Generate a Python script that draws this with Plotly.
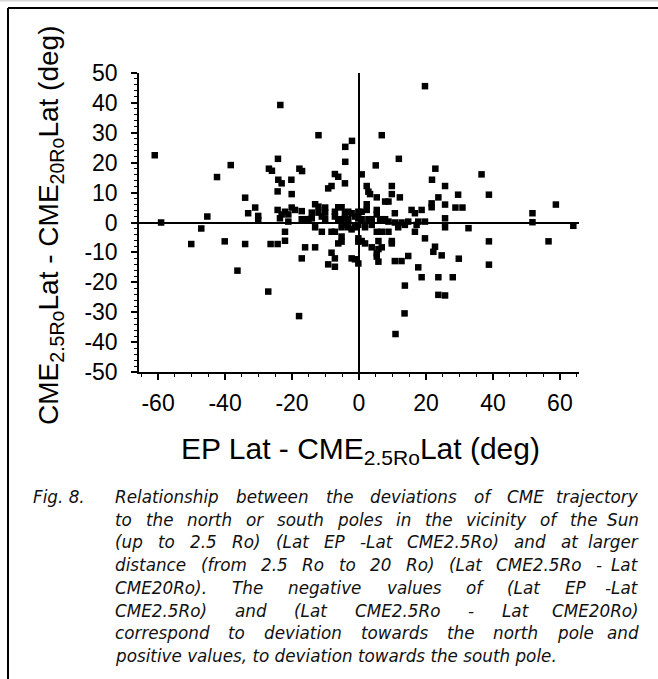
import plotly.graph_objects as go

# ---- data: (EP Lat - CME2.5Ro Lat, CME2.5Ro Lat - CME20Ro Lat) ----
x_dev = [
    -61.0, -42.4, -38.3, -26.9, -26.0, -23.5, -24.2, -12.1, -2.1, -4.1, -4.1, -17.8, -17.0, -7.2, -6.2,
    -24.1, -20.2, 0.8, 6.8, 5.0, 11.9, 19.7, 22.8, 21.8, 36.6,
    -59.1, -50.1, -47.1, -45.3, -40.1, -36.3, -34.0, -33.1, -34.0, -31.0, -30.1, -30.1, -27.1, -26.4,
    -24.3, -24.3, -24.3, -23.6,
    -23.1, -4.2, -8.2, -9.2, 2.3, 2.8, 3.3, 5.3, 9.8, 25.7, -20.1, 9.8, 12.2, 8.8, 7.8, 23.7, 21.7, 21.7,
    25.7, -13.1, -12.1, -10.1, -6.2, -5.2, 2.3, -20.1, -19.1, -22.1, -23.1, -21.1, -17.1, -14.1, -12.1,
    -10.1, -7.2, -4.2, -3.2, -2.2, -0.2, 0.8, 2.3, 5.3, 5.3, 10.7, 15.7, 16.7, 18.7,
    -21.1, -17.1, -16.1, -15.1, -14.1, -11.1, -10.1, -7.2, -6.2, -5.2, -4.2, -3.2, -1.2, -0.2, 0.8, 2.8,
    3.8, 6.3, 7.8, 8.8, 10.7, 12.7, 14.7, 17.7, 19.7, 25.7,
    -13.1, -11.1, -8.2, -7.2, -5.2, -4.2, -3.2, -2.2, -1.2, -0.2, 1.8, 3.8, 5.3, 6.8, 8.8, 11.7, 13.7,
    16.7, 17.2, -22.1, -22.1, -5.2, -5.2, -6.2, -0.2, -0.2, 0.8, 1.8, 5.8, 9.8, 9.8, 19.7, 25.7,
    -16.1, -13.1, 3.8, 5.8, 6.8, 5.3, 5.3, 5.8, -8.2, -7.2, -9.2, -7.2, -2.2, -1.2, -0.2, 10.7, 12.7,
    14.7, 17.7, 18.7, 23.7, 22.7, 22.2, 24.7, -17.1, 13.7, 23.7, 25.7,
    29.6, 38.8, 28.8, 30.9, 58.8, 51.8, 51.8, 64.0, 32.7, 38.8, 56.6, 29.8, 38.8, 28.0,
    -17.9, 13.6, 10.9,
]
y_dev = [
    22.5, 15.2, 19.2, 18.0, 17.3, 39.3, 21.3, 29.2, 27.3, 25.3, 20.3, 18.0, 17.2, 16.2, 15.3,
    14.3, 14.3, 16.1, 29.2, 19.1, 21.3, 45.6, 18.0, 14.3, 16.1,
    0.0, -7.2, -2.0, 2.0, -6.3, -16.1, 8.3, 3.1, -7.2, 5.0, 2.2, 0.8, -23.1, -7.2,
    -7.2, 4.2, 10.4, 1.4,
    13.1, 13.1, 12.2, 11.4, 12.2, 10.3, 9.5, 8.4, 12.2, 12.2, 9.5, 9.5, 8.4, 7.0, 7.0, 8.4, 6.4, 5.1,
    6.0, 6.1, 5.3, 5.0, 5.1, 5.1, 6.1, 5.0, 4.2, 3.6, 2.7, 2.7, 3.8, 3.3, 3.3,
    3.3, 3.6, 3.3, 3.6, 3.1, 3.6, 3.6, 4.2, 4.2, 2.7, 3.1, 4.2, 3.1, 4.2,
    0.3, 1.1, 1.1, 1.1, 1.4, 2.0, 1.1, 2.0, 1.1, 1.1, 1.4, 1.1, 2.0, 1.4, 1.1, 1.1,
    1.1, 1.1, 1.1, 0.3, 0.0, 0.0, 0.3, 0.3, 0.3, 1.4,
    -1.6, -3.1, -3.1, -3.1, -1.6, -0.8, -1.6, -2.3, -1.6, -0.8, -1.6, -0.8, -3.1, -3.1, -3.1, -1.6, -0.8,
    -3.1, -0.8, -3.1, -6.1, -4.7, -6.4, -7.0, -5.3, -6.4, -6.2, -7.0, -6.2, -6.2, -7.0, -5.3, -1.6,
    -8.3, -8.3, -8.3, -8.9, -8.3, -10.3, -11.4, -13.1, -10.1, -12.0, -14.0, -14.8, -12.0, -12.3, -13.7, -12.9, -12.9,
    -11.2, -15.0, -18.3, -18.3, -8.1, -9.8, -11.0, -12.0, -21.1, -24.2, -24.4,
    9.3, 9.3, 5.0, 5.0, 6.0, 3.1, 0.1, -1.1, -1.9, -6.3, -6.3, -12.1, -14.1, -18.3,
    -31.3, -30.4, -37.3,
]

x_ticks = [-60, -40, -20, 0, 20, 40, 60]
x_tick_labels = ["-60", "-40", "-20", "0", "20", "40", "60"]
y_ticks = [-50, -40, -30, -20, -10, 0, 10, 20, 30, 40, 50]
y_tick_labels = ["-50", "-40", "-30", "-20", "-10", "0", "10", "20", "30", "40", "50"]

x_title = "EP Lat - CME<sub>2.5Ro</sub>Lat (deg)"
y_title = "CME<sub>2.5Ro</sub>Lat - CME<sub>20Ro</sub>Lat (deg)"

caption_first = "Fig. 8."
caption_lines = [
    "Relationship between the deviations of CME trajectory",
    "to the north or south poles in the vicinity of the Sun",
    "(up to 2.5 Ro) (Lat EP -Lat CME2.5Ro) and at larger",
    "distance (from 2.5 Ro to 20 Ro) (Lat CME2.5Ro - Lat",
    "CME20Ro). The negative values of (Lat EP -Lat",
    "CME2.5Ro) and (Lat CME2.5Ro - Lat CME20Ro)",
    "correspond to deviation towards the north pole and",
    "positive values, to deviation towards the south pole.",
]

# ---- layout geometry (pixels) ----
W, H = 658, 679
L, R, T, B = 139, 579, 73, 372


def px_x(p):
    return (p - L) / (R - L)


def px_y(p):
    return (B - p) / (B - T)


fig = go.Figure()
fig.add_trace(go.Scatter(
    x=x_dev, y=y_dev, mode="markers",
    marker=dict(symbol="square", size=6.5, color="black", line=dict(width=0)),
    showlegend=False, hoverinfo="x+y",
))

tick_font = dict(family="Liberation Sans, Arial, sans-serif", size=23, color="black")
axis_common = dict(
    showgrid=False, showline=True, linecolor="black", linewidth=1.5, mirror=False,
    ticks="outside", ticklen=6, tickwidth=1.5, tickcolor="black",
    zeroline=True, zerolinecolor="black", zerolinewidth=1.5,
    tickfont=tick_font,
)
fig.update_xaxes(range=[-65.7, 65.7], tickvals=x_ticks, ticktext=x_tick_labels, ticklabelstandoff=4,
                 minor=dict(dtick=5, tick0=0, ticks="outside", ticklen=3, tickwidth=1, tickcolor="black"),
                 **axis_common)
fig.update_yaxes(range=[-50, 50], tickvals=y_ticks, ticktext=y_tick_labels, ticklabelstandoff=9,
                 minor=dict(dtick=2, tick0=0, ticks="outside", ticklen=3, tickwidth=1, tickcolor="black"),
                 **axis_common)

title_font = dict(family="Liberation Sans, Arial, sans-serif", size=30, color="black")
y_title_font = dict(family="Liberation Sans, Arial, sans-serif", size=28, color="black")
annotations = [
    dict(text=x_title, x=px_x(360), y=px_y(450), xref="paper", yref="paper",
         xanchor="center", yanchor="middle", showarrow=False, font=title_font),
    dict(text=y_title, x=px_x(50), y=px_y(226), xref="paper", yref="paper",
         xanchor="center", yanchor="middle", showarrow=False, font=y_title_font, textangle=-90),
]

# ---- caption (justified, DejaVu Sans Oblique metrics) ----
cap_size = 16.8
widths = {
    ' ': 651, '!': 821, '(': 799, ')': 799, ',': 651, '-': 739, '.': 651,
    'A': 1401, 'B': 1405, 'C': 1430, 'D': 1577, 'E': 1294, 'F': 1178, 'G': 1587, 'H': 1540,
    'I': 604, 'J': 604, 'K': 1343, 'L': 1141, 'M': 1767, 'N': 1532, 'O': 1612, 'P': 1235,
    'Q': 1612, 'R': 1423, 'S': 1300, 'T': 1251, 'U': 1499, 'V': 1401, 'W': 2025, 'X': 1403,
    'Y': 1251, 'Z': 1403,
    'a': 1255, 'b': 1300, 'c': 1126, 'd': 1300, 'e': 1260, 'f': 721, 'g': 1300, 'h': 1298,
    'i': 569, 'j': 569, 'k': 1186, 'l': 569, 'm': 1995, 'n': 1298, 'o': 1253, 'p': 1300,
    'q': 1300, 'r': 842, 's': 1067, 't': 803, 'u': 1298, 'v': 1212, 'w': 1675, 'x': 1212,
    'y': 1212, 'z': 1075,
}


def text_w(s):
    return sum(widths.get(c, 1303) for c in s) / 2048.0 * cap_size


cap_font = dict(family="DejaVu Sans, Verdana, sans-serif", size=cap_size, color="#111111", style="italic")
cap_left, cap_right = 113, 641
line_y0, line_dy = 497, 22.7

annotations.append(dict(text=caption_first, x=px_x(31), y=px_y(line_y0), xref="paper", yref="paper",
                        xanchor="left", yanchor="middle", showarrow=False, font=cap_font))
for i, line in enumerate(caption_lines):
    yy = px_y(line_y0 + i * line_dy)
    words = line.split(" ")
    if i == len(caption_lines) - 1:
        annotations.append(dict(text=line, x=px_x(cap_left), y=yy, xref="paper", yref="paper",
                                xanchor="left", yanchor="middle", showarrow=False, font=cap_font))
        continue
    total = sum(text_w(w) for w in words)
    gap = (cap_right - cap_left - total) / (len(words) - 1)
    pos = cap_left
    for j, w in enumerate(words):
        if j == len(words) - 1:
            annotations.append(dict(text=w, x=px_x(cap_right), y=yy, xref="paper", yref="paper",
                                    xanchor="right", yanchor="middle", showarrow=False, font=cap_font))
        else:
            annotations.append(dict(text=w, x=px_x(pos), y=yy, xref="paper", yref="paper",
                                    xanchor="left", yanchor="middle", showarrow=False, font=cap_font))
        pos += text_w(w) + gap

shapes = [
    dict(type="line", xref="paper", yref="paper", x0=px_x(0), x1=px_x(W), y0=px_y(0.5), y1=px_y(0.5),
         line=dict(color="#d8d8d8", width=2)),
    dict(type="line", xref="paper", yref="paper", x0=px_x(8), x1=px_x(W + 5), y0=px_y(8), y1=px_y(8),
         line=dict(color="black", width=2)),
    dict(type="line", xref="paper", yref="paper", x0=px_x(8), x1=px_x(8), y0=px_y(8), y1=px_y(H + 5),
         line=dict(color="black", width=2)),
]

fig.update_layout(
    width=W, height=H, autosize=False,
    margin=dict(l=L, r=W - R, t=T, b=H - B, pad=0),
    paper_bgcolor="white", plot_bgcolor="white",
    annotations=annotations, shapes=shapes,
    showlegend=False,
)

fig.write_html("out.html")
